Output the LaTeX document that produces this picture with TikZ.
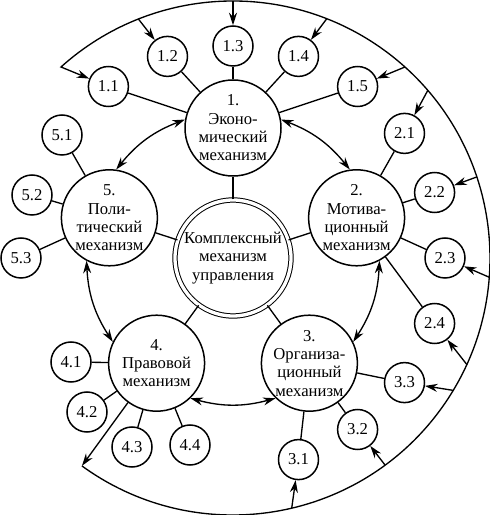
\documentclass[tikz,border=0pt]{standalone}
\usepackage{fontspec}
\setmainfont{Liberation Serif}
\usetikzlibrary{arrows.meta}

\begin{document}
\begin{tikzpicture}[x=0.6pt, y=0.6pt, line width=0.8pt,
  every node/.style={font=\fontsize{10}{11}\selectfont},
  mnode/.style={circle, draw, line width=0.9pt, minimum size=57.6pt, inner sep=-8pt, align=center},
  snode/.style={circle, draw, line width=0.9pt, minimum size=24pt, inner sep=0pt, font=\fontsize{10}{12}\selectfont},
  cnode/.style={circle, draw, double, double distance=2pt, line width=0.6pt, minimum size=69.6pt, inner sep=-8pt, align=center},
  arr/.style={-{Stealth[length=7.5pt, width=4.8pt]}},
  dbl/.style={{Stealth[length=7.5pt, width=4.8pt]}-{Stealth[length=7.5pt, width=4.8pt]}}]
  \useasboundingbox (0,0) rectangle (490,515);
  % mechanisms
  \node[cnode] (C) at (233,257) {Комплексный\\механизм\\управления};
  \node[mnode] (n1) at (233,387) {1.\\Эконо-\\мический\\механизм};
  \node[mnode] (n2) at (356.6,297.2) {2.\\Мотива-\\ционный\\механизм};
  \node[mnode] (n3) at (309.4,151.8) {3.\\Организа-\\ционный\\механизм};
  \node[mnode] (n4) at (156.6,151.8) {4.\\Правовой\\механизм};
  \node[mnode] (n5) at (109.4,297.2) {5.\\Поли-\\тический\\механизм};
  \draw (C) -- (n1); \draw (C) -- (n2); \draw (C) -- (n3); \draw (C) -- (n4); \draw (C) -- (n5);
  \draw[dbl] (n1.10) to[out=-21, in=129] (n2.98);
  \draw[dbl] (n2.-62) to[out=-93, in=57] (n3.26);
  \draw[dbl] (n3.-134) to[out=-165, in=-15] (n4.-46);
  \draw[dbl] (n4.154) to[out=123, in=-87] (n5.-118);
  \draw[dbl] (n5.82) to[out=51, in=201] (n1.170);
  % elements
  \node[snode] (s11) at (108.4,428.5) {1.1};
  \node[snode] (s12) at (167.5,458.6) {1.2};
  \node[snode] (s13) at (233,469) {1.3};
  \node[snode] (s14) at (298.5,458.6) {1.4};
  \node[snode] (s15) at (357.6,428.5) {1.5};
  \node[snode] (s21) at (404.5,381.6) {2.1};
  \node[snode] (s22) at (434.6,322.5) {2.2};
  \node[snode] (s23) at (445,257) {2.3};
  \node[snode] (s24) at (434.6,191.5) {2.4};
  \node[snode] (s33) at (404.5,132.4) {3.3};
  \node[snode] (s32) at (357.6,85.5) {3.2};
  \node[snode] (s31) at (298.5,55.4) {3.1};
  \node[snode] (s41) at (71,153) {4.1};
  \node[snode] (s42) at (87,103) {4.2};
  \node[snode] (s43) at (132,68) {4.3};
  \node[snode] (s44) at (190,70) {4.4};
  \node[snode] (s51) at (62,380) {5.1};
  \node[snode] (s52) at (32,320) {5.2};
  \node[snode] (s53) at (21,257) {5.3};
  \draw (s11) -- (n1); \draw (s12) -- (n1); \draw (s13) -- (n1); \draw (s14) -- (n1); \draw (s15) -- (n1);
  \draw (s21) -- (n2); \draw (s22) -- (n2); \draw (s23) -- (n2); \draw (s24) -- (n2);
  \draw (s31) -- (n3); \draw (s32) -- (n3); \draw (s33) -- (n3);
  \draw (s41) -- (n4); \draw (s42) -- (n4); \draw (s43) -- (n4); \draw (s44) -- (n4);
  \draw (s51) -- (n5); \draw (s52) -- (n5); \draw (s53) -- (n5);
  % feedback loop
  \coordinate (k4) at (81.9,49.1);
  \coordinate (p12) at (138.4,496.0);
  \coordinate (p13) at (233,514);
  \coordinate (p14) at (326.8,496.3);
  \coordinate (p15) at (405.0,448.0);
  \coordinate (p21) at (427.8,424.6);
  \coordinate (p22) at (476.9,338.1);
  \coordinate (p23) at (489.3,237.7);
  \coordinate (p24) at (466.9,150.4);
  \coordinate (p33) at (453.3,124.6);
  \coordinate (p32) at (385.1,49.9);
  \coordinate (p31) at (291.7,6.8);
  \draw[arr] (n4) -- (k4);
  \draw[arr] (k4) arc[start angle=-126, end angle=132, radius=257] -- (s11);
  \draw[arr] (p12) -- (s12); \draw[arr] (p13) -- (s13); \draw[arr] (p14) -- (s14); \draw[arr] (p15) -- (s15);
  \draw[arr] (p21) -- (s21); \draw[arr] (p22) -- (s22); \draw[arr] (p23) -- (s23); \draw[arr] (p24) -- (s24);
  \draw[arr] (p33) -- (s33); \draw[arr] (p32) -- (s32); \draw[arr] (p31) -- (s31);
\end{tikzpicture}
\end{document}
